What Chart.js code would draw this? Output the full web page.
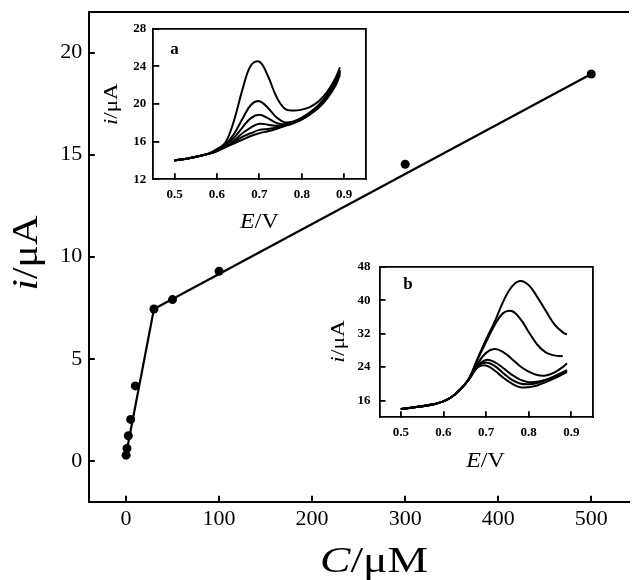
<!DOCTYPE html>
<html>
<head>
<meta charset="utf-8">
<script src="https://cdn.jsdelivr.net/npm/chart.js@4.4.1/dist/chart.umd.min.js"></script>
<style>
  html, body { margin: 0; padding: 0; background: #fff; overflow: hidden; }
  #wrap { position: relative; width: 633px; height: 580px; }
  canvas { position: absolute; }
</style>
</head>
<body>
<div id="wrap">
  <canvas id="main" width="633" height="580" style="left:0;top:0;width:633px;height:580px"></canvas>
  <canvas id="insetA" width="285" height="220" style="left:95px;top:15px;width:285px;height:220px"></canvas>
  <canvas id="insetB" width="290" height="225" style="left:320px;top:252px;width:290px;height:225px"></canvas>
</div>
<script>
// Calibration: peak current vs. concentration
const concentrations = [0.1, 1, 2.5, 5, 10, 30, 50, 100, 300, 500];
const currents = [0.28, 0.61, 1.23, 2.03, 3.67, 7.44, 7.9, 9.29, 14.53, 18.95];
// Two linear ranges
const fitLowX = [0, 30];
const fitLowY = [0.3, 7.44];
const fitHighX = [30, 500];
const fitHighY = [7.44, 18.95];
const mainXTicks = [0, 100, 200, 300, 400, 500];
const mainYTicks = [0, 5, 10, 15, 20];

// Voltammograms, inset a
const potentialA = [0.50, 0.54, 0.58, 0.60, 0.62, 0.64, 0.66, 0.68, 0.70, 0.72, 0.74, 0.76, 0.78, 0.80, 0.82, 0.84, 0.86, 0.88, 0.89];
const curveA1 = [14.0, 14.3, 14.75, 15.2, 15.9, 18.2, 21.5, 24.1, 24.5, 23.0, 20.8, 19.5, 19.3, 19.4, 19.7, 20.3, 21.3, 22.8, 23.9];
const curveA2 = [14.0, 14.3, 14.7, 15.1, 15.7, 16.8, 18.4, 19.9, 20.3, 19.6, 18.6, 18.05, 18.15, 18.55, 19.15, 19.9, 21.0, 22.5, 23.6];
const curveA3 = [14.0, 14.3, 14.7, 15.05, 15.6, 16.4, 17.5, 18.5, 18.85, 18.5, 18.0, 17.85, 18.1, 18.5, 19.1, 19.8, 20.9, 22.4, 23.5];
const curveA4 = [14.0, 14.3, 14.7, 15.0, 15.5, 16.1, 16.9, 17.5, 17.9, 17.8, 17.7, 17.8, 18.05, 18.45, 19.05, 19.75, 20.8, 22.3, 23.4];
const curveA5 = [14.0, 14.3, 14.7, 15.0, 15.45, 15.95, 16.5, 16.9, 17.25, 17.35, 17.5, 17.75, 18.0, 18.4, 19.0, 19.7, 20.7, 22.2, 23.3];
const curveA6 = [14.0, 14.3, 14.7, 15.0, 15.4, 15.8, 16.2, 16.6, 16.9, 17.1, 17.35, 17.65, 17.95, 18.35, 18.9, 19.6, 20.6, 22.0, 23.1];
const insetAYTicks = [12, 16, 20, 24, 28];

// Voltammograms, inset b
const potentialB = [0.50, 0.54, 0.58, 0.60, 0.62, 0.64, 0.66, 0.68, 0.70, 0.72, 0.74, 0.76, 0.78, 0.80, 0.82, 0.84, 0.86, 0.88, 0.89];
const curveB1 = [14.0, 14.5, 15.2, 15.8, 16.9, 18.7, 21.3, 26.0, 30.6, 34.8, 39.6, 43.2, 44.6, 43.6, 40.8, 37.5, 34.3, 32.3, 31.8];
const curveB2 = [14.0, 14.5, 15.2, 15.8, 16.9, 18.7, 21.3, 25.8, 30.0, 34.0, 36.9, 37.4, 35.6, 32.4, 29.4, 27.5, 26.8, 26.6, null];
const curveB3 = [14.0, 14.5, 15.2, 15.8, 16.9, 18.7, 21.2, 24.8, 27.4, 28.3, 27.6, 26.0, 24.2, 22.9, 22.1, 22.0, 22.7, 24.0, 24.9];
const curveB4 = [14.0, 14.5, 15.2, 15.8, 16.9, 18.7, 21.1, 24.3, 25.7, 25.2, 23.8, 22.2, 21.0, 20.4, 20.5, 21.0, 21.8, 22.8, 23.3];
const curveB5 = [14.0, 14.5, 15.2, 15.8, 16.9, 18.7, 21.1, 24.1, 25.1, 24.3, 22.6, 21.0, 20.1, 19.9, 20.2, 20.9, 21.7, 22.6, 23.1];
const curveB6 = [14.0, 14.5, 15.2, 15.8, 16.9, 18.7, 21.0, 23.9, 24.4, 23.2, 21.5, 20.1, 19.2, 19.2, 19.6, 20.4, 21.3, 22.3, 22.8];
const insetBYTicks = [16, 24, 32, 40, 48];

const potentialTicks = [0.5, 0.6, 0.7, 0.8, 0.9];

const SERIF = '"Liberation Serif", "Times New Roman", serif';

function toPoints(xs, ys) {
  const pts = [];
  xs.forEach((x, i) => { if (ys[i] !== null) pts.push({ x: x, y: ys[i] }); });
  return pts;
}

// Text with mixed italic/upright runs, centred on (x, baseline y)
function drawRich(ctx, it) {
  ctx.save();
  ctx.translate(it.x, it.y);
  if (it.rotate) ctx.rotate(-Math.PI / 2);
  const fonts = it.parts.map(p => (p[1] ? 'italic ' : '') + (it.weight || 'normal') + ' ' + it.size + 'px ' + SERIF);
  let total = 0;
  it.parts.forEach((p, i) => { ctx.font = fonts[i]; total += ctx.measureText(p[0]).width; });
  if (it.width) ctx.scale(it.width / total, 1);
  ctx.fillStyle = '#000';
  ctx.textBaseline = 'alphabetic';
  ctx.textAlign = 'left';
  let cx = -total / 2;
  it.parts.forEach((p, i) => { ctx.font = fonts[i]; ctx.fillText(p[0], cx, 0); cx += ctx.measureText(p[0]).width; });
  ctx.restore();
}

const richText = {
  id: 'richText',
  afterDraw(chart, args, opts) {
    (opts.items || []).forEach(it => drawRich(chart.ctx, it));
  }
};

function fixedTicks(values) {
  return scale => { scale.ticks = values.map(v => ({ value: v })); };
}

// Give an axis a fixed thickness and no label overhang padding
function fixedSize(size) {
  return scale => {
    if (scale.isHorizontal()) scale.height = size; else scale.width = size;
    scale.paddingTop = 0; scale.paddingBottom = 0; scale.paddingLeft = 0; scale.paddingRight = 0;
  };
}

function axis(lw, extra) {
  return Object.assign({
    type: 'linear',
    grid: { drawOnChartArea: false, drawTicks: true, tickLength: -6, color: '#000', lineWidth: lw },
    border: { color: '#000', width: lw },
  }, extra);
}

// Main calibration plot
new Chart(document.getElementById('main'), {
  type: 'scatter',
  data: {
    datasets: [
      { type: 'line', data: toPoints(fitLowX, fitLowY), borderColor: '#000', borderWidth: 2.2, pointRadius: 0, fill: false },
      { type: 'line', data: toPoints(fitHighX, fitHighY), borderColor: '#000', borderWidth: 2.2, pointRadius: 0, fill: false },
      { type: 'scatter', data: toPoints(concentrations, currents), backgroundColor: '#000', borderColor: '#000', pointRadius: 4.5, borderWidth: 0 }
    ]
  },
  plugins: [richText],
  options: {
    responsive: false, animation: false, events: [],
    layout: { padding: { left: 0, top: 11.7, right: 0, bottom: 0 } },
    plugins: {
      legend: { display: false }, tooltip: { enabled: false },
      richText: { items: [
        { parts: [['C', true], ['/μM', false]], size: 36, x: 374, y: 572, width: 108 },
        { parts: [['i', true], ['/μA', false]], size: 36, x: 37, y: 253, rotate: true, width: 75 }
      ] }
    },
    scales: {
      x: axis(2, {
        position: 'bottom', min: -40, max: 540,
        afterBuildTicks: fixedTicks(mainXTicks), afterFit: fixedSize(78.3),
        ticks: { color: '#000', font: { family: SERIF, size: 22 }, padding: 10.6, maxRotation: 0, autoSkip: false }
      }),
      xTop: axis(2, {
        position: 'top', min: -40, max: 540, afterFit: fixedSize(0),
        grid: { display: false, drawTicks: false }, ticks: { display: false }
      }),
      y: axis(2, {
        position: 'left', min: -2, max: 22,
        afterBuildTicks: fixedTicks(mainYTicks), afterFit: fixedSize(88.8),
        ticks: { color: '#000', font: { family: SERIF, size: 22 }, padding: 12.5, autoSkip: false }
      })
    }
  }
});

function insetChart(id, xs, curves, yMin, yMax, yTicks, box, yPad, items) {
  new Chart(document.getElementById(id), {
    type: 'scatter',
    data: {
      datasets: curves.map(c => ({
        data: toPoints(xs, c), showLine: true, borderColor: '#000', borderWidth: 2,
        pointRadius: 0, fill: false, tension: 0.4
      }))
    },
    plugins: [richText],
    options: {
      responsive: false, animation: false, events: [],
      layout: { padding: { left: 0, top: box.top, right: box.right, bottom: 0 } },
      plugins: { legend: { display: false }, tooltip: { enabled: false }, richText: { items: items } },
      scales: {
        x: axis(1.8, {
          position: 'bottom', min: 0.45, max: 0.95,
          afterBuildTicks: fixedTicks(potentialTicks), afterFit: fixedSize(box.bottom),
          ticks: { color: '#000', font: { family: SERIF, size: 13, weight: 'bold' }, padding: 13.9, maxRotation: 0, autoSkip: false,
                   callback: v => v.toFixed(1) }
        }),
        xTop: axis(1.8, {
          position: 'top', min: 0.45, max: 0.95, afterFit: fixedSize(0),
          grid: { display: false, drawTicks: false }, ticks: { display: false }
        }),
        y: axis(1.8, {
          position: 'left', min: yMin, max: yMax,
          afterBuildTicks: fixedTicks(yTicks), afterFit: fixedSize(box.left),
          ticks: { color: '#000', font: { family: SERIF, size: 13, weight: 'bold' }, padding: yPad, autoSkip: false }
        }),
        yRight: axis(1.8, {
          position: 'right', min: yMin, max: yMax, afterFit: fixedSize(0),
          grid: { display: false, drawTicks: false }, ticks: { display: false }
        })
      }
    }
  });
}

// Inset a: canvas at (95, 15)
insetChart('insetA', potentialA, [curveA1, curveA2, curveA3, curveA4, curveA5, curveA6], 12, 28, insetAYTicks,
  { left: 58.3, top: 13.7, right: 14.6, bottom: 55.7 }, 13,
  [
    { parts: [['E', true], ['/V', false]], size: 20, x: 259.4 - 95, y: 228 - 15, width: 38.6 },
    { parts: [['i', true], ['/μA', false]], size: 18, x: 117 - 95, y: 104.2 - 15, rotate: true, width: 41.7 },
    { parts: [['a', false]], size: 17, weight: 'bold', x: 174.5 - 95, y: 53.7 - 15 }
  ]);

// Inset b: canvas at (320, 252)
insetChart('insetB', potentialB, [curveB1, curveB2, curveB3, curveB4, curveB5, curveB6], 12, 48, insetBYTicks,
  { left: 59.5, top: 14.7, right: 17.4, bottom: 59.7 }, 15,
  [
    { parts: [['E', true], ['/V', false]], size: 20, x: 485.5 - 320, y: 467 - 252, width: 38.6 },
    { parts: [['i', true], ['/μA', false]], size: 18, x: 344 - 320, y: 341.3 - 252, rotate: true, width: 42.7 },
    { parts: [['b', false]], size: 17, weight: 'bold', x: 408 - 320, y: 289.3 - 252 }
  ]);
</script>
</body>
</html>
